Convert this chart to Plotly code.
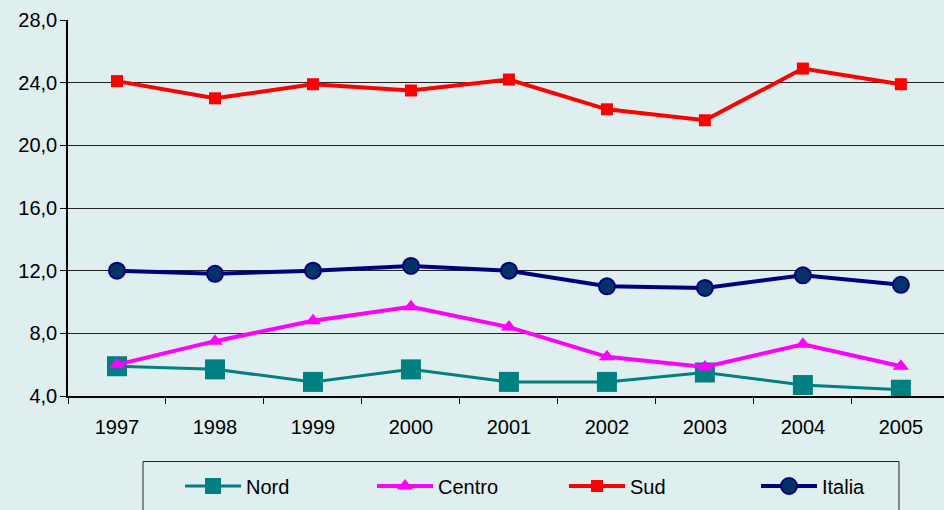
import plotly.graph_objects as go

years = ["1997", "1998", "1999", "2000", "2001", "2002", "2003", "2004", "2005"]
nord = [5.9, 5.7, 4.9, 5.7, 4.9, 4.9, 5.5, 4.7, 4.4]
centro = [6.0, 7.5, 8.8, 9.7, 8.4, 6.5, 5.85, 7.3, 5.9]
sud = [24.1, 23.0, 23.9, 23.5, 24.2, 22.3, 21.6, 24.9, 23.9]
italia = [12.0, 11.8, 12.0, 12.3, 12.0, 11.0, 10.9, 11.7, 11.1]
y_ticks = [4, 8, 12, 16, 20, 24, 28]

BG = "#DFEEEE"
W, H = 944, 510
L, R, T, B = 68, 0, 20, 114
pw = W - L - R
ph = H - T - B

def px_x(x):
    return (x - L) / pw

def px_y(y):
    return (H - B - y) / ph

fig = go.Figure()
fig.add_trace(go.Scatter(x=years, y=nord, name="Nord", mode="lines+markers",
                         line=dict(color="#008080", width=3),
                         marker=dict(symbol="square", size=20, color="#008080")))
fig.add_trace(go.Scatter(x=years, y=centro, name="Centro", mode="lines+markers",
                         line=dict(color="#FF00FF", width=4),
                         marker=dict(symbol="triangle-up", size=14, color="#FF00FF")))
fig.add_trace(go.Scatter(x=years, y=sud, name="Sud", mode="lines+markers",
                         line=dict(color="#FF0000", width=4),
                         marker=dict(symbol="square", size=12, color="#FF0000")))
fig.add_trace(go.Scatter(x=years, y=italia, name="Italia", mode="lines+markers",
                         line=dict(color="#000080", width=4),
                         marker=dict(symbol="circle", size=16, color="#003366",
                                     line=dict(color="#000080", width=2))))

font = dict(family="Liberation Sans, Arial, sans-serif", size=20, color="black")

fig.update_layout(
    width=W, height=H,
    margin=dict(l=L, r=R, t=T, b=B, pad=0, autoexpand=False),
    paper_bgcolor=BG, plot_bgcolor=BG,
    separators=",.",
    font=font,
    showlegend=True,
    legend=dict(orientation="h", x=px_x(180), xanchor="left",
                y=px_y(486), yanchor="middle",
                bgcolor="rgba(0,0,0,0)", borderwidth=0,
                entrywidth=121, entrywidthmode="pixels",
                itemwidth=56, font=font, traceorder="normal"),
    xaxis=dict(type="category", range=[-0.5, 8.44], tickson="boundaries",
               ticks="outside", ticklen=6, tickcolor="black", tickwidth=1,
               showline=True, linecolor="black", linewidth=1.5,
               showgrid=False, zeroline=False, fixedrange=True,
               ticklabelstandoff=12),
    yaxis=dict(range=[4, 28], tickvals=y_ticks, tickformat=".1f",
               ticksuffix="\u2002",
               ticks="outside", ticklen=6, tickcolor="black", tickwidth=1,
               showline=True, linecolor="black", linewidth=1.5,
               showgrid=True, gridcolor="#222222", gridwidth=1,
               zeroline=False, ticklabelstandoff=-1, fixedrange=True),
    shapes=[dict(type="rect", xref="paper", yref="paper",
                 x0=px_x(143), x1=px_x(899), y0=px_y(461.5), y1=px_y(530),
                 line=dict(color="#222222", width=1), fillcolor="rgba(0,0,0,0)")],
)

fig.write_html("out.html", config={"displayModeBar": False},
               post_script="document.body.style.margin='0';document.body.style.overflow='hidden';document.body.style.background='" + BG + "';")
